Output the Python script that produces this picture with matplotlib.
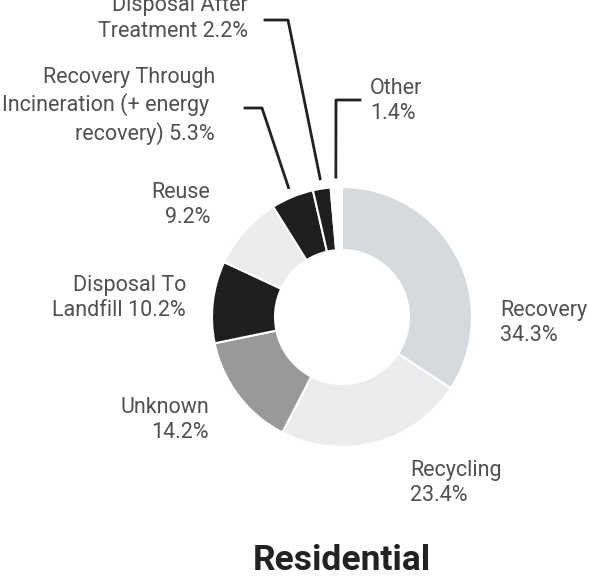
import numpy as np
import matplotlib.pyplot as plt

plt.rcParams['font.family'] = ['Roboto', 'DejaVu Sans']

labels = ['Recovery', 'Recycling', 'Unknown', 'Disposal To\nLandfill',
          'Reuse', 'Recovery Through\nIncineration (+ energy \nrecovery)',
          'Disposal After\nTreatment', 'Other']
values = [34.3, 23.4, 14.2, 10.2, 9.2, 5.3, 2.2, 1.4]
colors = ['#d6d9dd', '#ececec', '#999999', '#1e1e1e',
          '#ececec', '#1e1e1e', '#1e1e1e', '#ffffff']

W, H = 589, 576
fig = plt.figure(figsize=(W / 100, H / 100), dpi=100)
ax = fig.add_axes([0, 0, 1, 1])

cx, cy, R = 342, H - 317, 130
wedges, _ = ax.pie(values, colors=colors, startangle=90, counterclock=False,
                   center=(cx, cy), radius=R,
                   wedgeprops=dict(width=63, edgecolor='white', linewidth=1.5))
ax.set_xlim(0, W)
ax.set_ylim(0, H)
ax.set_aspect('equal')
ax.axis('off')

txt = dict(fontsize=15.5, color='#505050', linespacing=1.3)

# label anchor (x, y in pixels from top), alignment
pos = [(500, 323, 'left'), (410, 483, 'left'), (209, 420, 'right'),
       (186, 298, 'right'), (210, 205, 'right'), (215, 106, 'right'),
       (248, 18, 'right'), (370, 101, 'left')]
for lab, v, (x, y, ha) in zip(labels, values, pos):
    s = f'{lab} {v}%' if '\n' in lab else f'{lab}\n{v}%'
    ax.text(x, H - y, s, ha=ha, va='center', **txt)

# leader lines for the small slices: start at wedge mid angle, elbow, end
leaders = {5: [(262, 108), (245, 108)],
           6: [(288, 20), (265, 20)],
           7: [(336, 100), (360, 100)]}
for i, pts in leaders.items():
    w = wedges[i]
    ang = np.deg2rad((w.theta1 + w.theta2) / 2)
    x0 = cx + (R + 10) * np.cos(ang)
    y0 = cy + (R + 10) * np.sin(ang)
    xs = [x0] + [p[0] for p in pts]
    ys = [y0] + [H - p[1] for p in pts]
    ax.plot(xs, ys, color='#222222', lw=2)

ax.text(cx, H - 560, 'Residential', ha='center', va='center',
        fontsize=25.5, fontweight='bold', color='#222222')

fig.savefig('out.png', dpi=100)
